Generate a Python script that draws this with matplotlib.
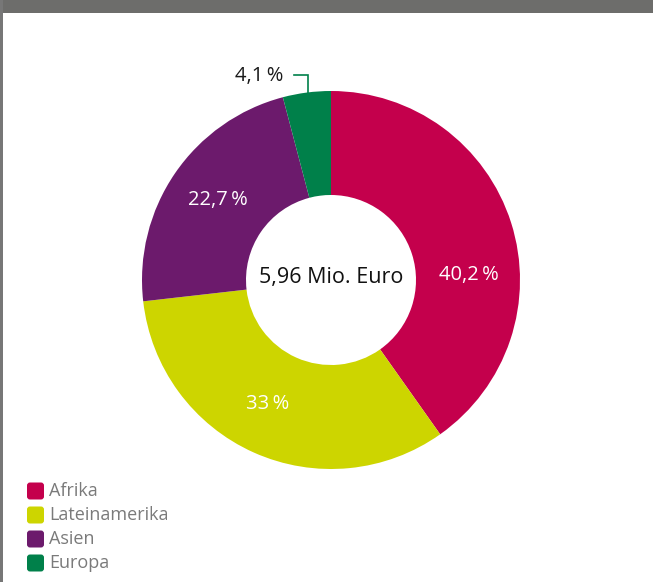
import matplotlib.pyplot as plt
from matplotlib.patches import FancyBboxPatch, Rectangle

# data
regions = ['Afrika', 'Lateinamerika', 'Asien', 'Europa']
shares = [40.2, 33.0, 22.7, 4.1]
share_labels = ['40,2\u2009%', '33\u2009%', '22,7\u2009%', '4,1\u2009%']
total_label = '5,96 Mio. Euro'
colors = ['#c4004c', '#cdd500', '#6c1a6c', '#00804a']

W, H = 653, 582
plt.rcParams['font.family'] = ['Open Sans', 'DejaVu Sans']

fig = plt.figure(figsize=(W / 100, H / 100), dpi=100)
ax = fig.add_axes([0, 0, 1, 1])

# donut, pixel coords with y measured from bottom
cx, cy = 331, H - 280
r_out, r_in = 189, 85
ax.pie(shares, colors=colors, startangle=90, counterclock=False,
       center=(cx, cy), radius=r_out,
       wedgeprops=dict(width=r_out - r_in, linewidth=0))
ax.set_xlim(0, W)
ax.set_ylim(0, H)
ax.set_aspect('equal')
ax.axis('off')

# label positions (pixels from top-left)
label_pos = [(469, 275), (268, 404), (218, 200), (259, 76)]
label_cols = ['white', 'white', 'white', '#1a1a1a']
for txt, (x, y), c in zip(share_labels, label_pos, label_cols):
    ax.text(x, H - y, txt, color=c, fontsize=14.5, ha='center', va='center')

# leader line for the small slice
ax.plot([294, 308, 308], [H - 75, H - 75, H - 98], color=colors[3], lw=1.2,
        solid_joinstyle='miter')

ax.text(cx, H - 277, total_label, fontsize=15.5, ha='center', va='center',
        color='#111111')

# legend
for i, (name, c) in enumerate(zip(regions, colors)):
    yc = H - (491 + i * 24)
    ax.add_patch(FancyBboxPatch((28, yc - 7.5), 15, 15,
                                boxstyle='round,pad=1,rounding_size=3',
                                facecolor=c, edgecolor='none'))
    ax.text(49, yc, name, fontsize=13, color='#7a7a7a', va='center', ha='left')

# frame pieces of the page
ax.add_patch(Rectangle((0, H - 13), W, 13, facecolor='#6d6d6b',
                       edgecolor='none'))
ax.add_patch(Rectangle((0, 0), 2.5, H, facecolor='#777777', edgecolor='none'))

fig.savefig('out.png', dpi=100)
